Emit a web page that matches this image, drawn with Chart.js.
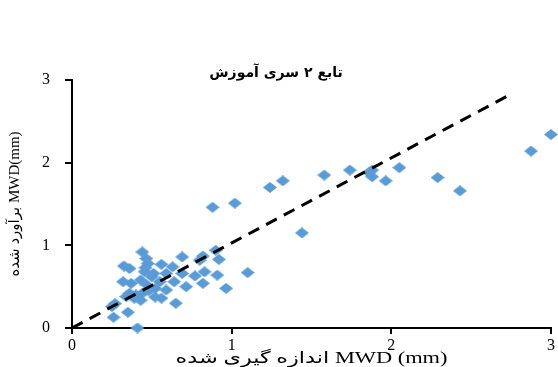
<!DOCTYPE html>
<html>
<head>
<meta charset="utf-8">
<script src="https://cdn.jsdelivr.net/npm/chart.js@4"></script>
<style>
  html, body { margin: 0; padding: 0; background: #fff; }
  #wrap { width: 558px; height: 367px; }
</style>
</head>
<body>
<div id="wrap"><canvas id="mwdChart"></canvas></div>
<script>
const TITLE = 'تابع ۲ سری آموزش';
const X_TITLE = 'اندازه گیری شده MWD (mm)';
const Y_TITLE = 'برآورد شده MWD(mm)';

// measured MWD (mm)
const MEASURED = [
  0.44, 0.465, 0.475, 0.325, 0.36, 0.56, 0.63, 0.69, 0.82, 0.90, 0.92,
  0.455, 0.51, 0.59, 0.69, 0.77, 0.83, 0.91, 1.10, 0.32, 0.37, 0.43,
  0.55, 0.64, 0.715, 0.82, 0.965, 0.52, 0.59, 0.36, 0.40, 0.44, 0.52,
  0.56, 0.43, 0.65, 0.27, 0.25, 0.35, 0.26, 0.41, 0.46, 0.50, 0.47,
  0.39, 0.80, 0.34, 0.48,
  0.88, 1.02, 1.24, 1.32, 1.44, 1.58, 1.74, 1.86, 1.88, 1.88, 1.965,
  2.05, 2.29, 2.43, 2.875, 3.0
];
// estimated MWD (mm)
const ESTIMATED = [
  0.92, 0.84, 0.78, 0.75, 0.72, 0.77, 0.74, 0.86, 0.87, 0.94, 0.83,
  0.68, 0.66, 0.66, 0.66, 0.63, 0.68, 0.64, 0.67, 0.56, 0.54, 0.58,
  0.56, 0.56, 0.50, 0.54, 0.48, 0.48, 0.46, 0.42, 0.40, 0.42, 0.375,
  0.36, 0.335, 0.30, 0.295, 0.26, 0.19, 0.13, 0.0, 0.73, 0.62, 0.52,
  0.36, 0.82, 0.38, 0.45,
  1.46, 1.51, 1.70, 1.78, 1.15, 1.85, 1.91, 1.88, 1.91, 1.83, 1.78,
  1.94, 1.82, 1.66, 2.14, 2.34
];
// dashed fit line end points
const FIT_X = [0, 2.76];
const FIT_Y = [0, 2.84];
const TICKS = [0, 1, 2, 3];

// flattened diamond marker, like the stretched original
const diamond = document.createElement('canvas');
diamond.width = 14; diamond.height = 11;
{
  const c = diamond.getContext('2d');
  c.fillStyle = '#5b9bd5';
  c.beginPath();
  c.moveTo(7, 0); c.lineTo(14, 5.5); c.lineTo(7, 11); c.lineTo(0, 5.5);
  c.closePath(); c.fill();
}

// x axis title is drawn a bit wider, the source picture is stretched sideways
const xTitlePlugin = {
  id: 'xTitle',
  afterDraw(chart) {
    const { ctx, chartArea } = chart;
    ctx.save();
    ctx.translate((chartArea.left + chartArea.right) / 2, 359);
    ctx.scale(1.4, 1);
    ctx.font = "16px 'Liberation Serif', 'DejaVu Sans', serif";
    ctx.fillStyle = '#000';
    ctx.textAlign = 'center';
    ctx.textBaseline = 'middle';
    ctx.fillText(X_TITLE, 0, 0);
    ctx.restore();
  },
};

const tickFont = { family: "'Liberation Serif', 'Times New Roman', serif", size: 16 };

new Chart(document.getElementById('mwdChart'), {
  type: 'scatter',
  data: {
    datasets: [
      {
        type: 'line',
        data: FIT_X.map((x, i) => ({ x, y: FIT_Y[i] })),
        borderColor: '#000',
        borderWidth: 3,
        borderDash: [12, 8],
        pointRadius: 0,
        fill: false,
        order: 0,
      },
      {
        data: MEASURED.map((x, i) => ({ x, y: ESTIMATED[i] })),
        pointStyle: diamond,
        pointRadius: 6,
        clip: false,
        order: 1,
      },
    ],
  },
  options: {
    responsive: true, maintainAspectRatio: false, animation: false,
    layout: { padding: { left: 0, right: 6, top: 0, bottom: 0 } },
    plugins: {
      legend: { display: false },
      tooltip: { enabled: false },
      title: {
        display: true, text: TITLE, color: '#000',
        font: { family: "'DejaVu Sans', sans-serif", size: 14, weight: 'bold', lineHeight: 1 },
        padding: { top: 66, bottom: 0 },
      },
    },
    scales: {
      x: {
        type: 'linear', min: 0, max: 3,
        afterBuildTicks: s => { s.ticks = TICKS.map(v => ({ value: v })); },
        afterFit: s => { s.height = 39; },
        border: { color: '#000', width: 2 },
        grid: { drawOnChartArea: false, color: '#000', lineWidth: 2, tickLength: 6 },
        ticks: { color: '#000', font: tickFont, padding: 2, maxRotation: 0 },
      },
      y: {
        type: 'linear', min: 0, max: 3,
        afterBuildTicks: s => { s.ticks = TICKS.map(v => ({ value: v })); },
        afterFit: s => { s.width = 72; },
        border: { color: '#000', width: 2 },
        grid: { drawOnChartArea: false, color: '#000', lineWidth: 2, tickLength: 7 },
        ticks: { color: '#000', font: tickFont, padding: 15 },
        title: { display: true, text: Y_TITLE, color: '#000', font: { family: "'Liberation Serif', 'DejaVu Sans', serif", size: 15, lineHeight: 1 }, padding: { top: 8, bottom: 0 } },
      },
    },
  },
  plugins: [xTitlePlugin],
});
</script>
</body>
</html>
